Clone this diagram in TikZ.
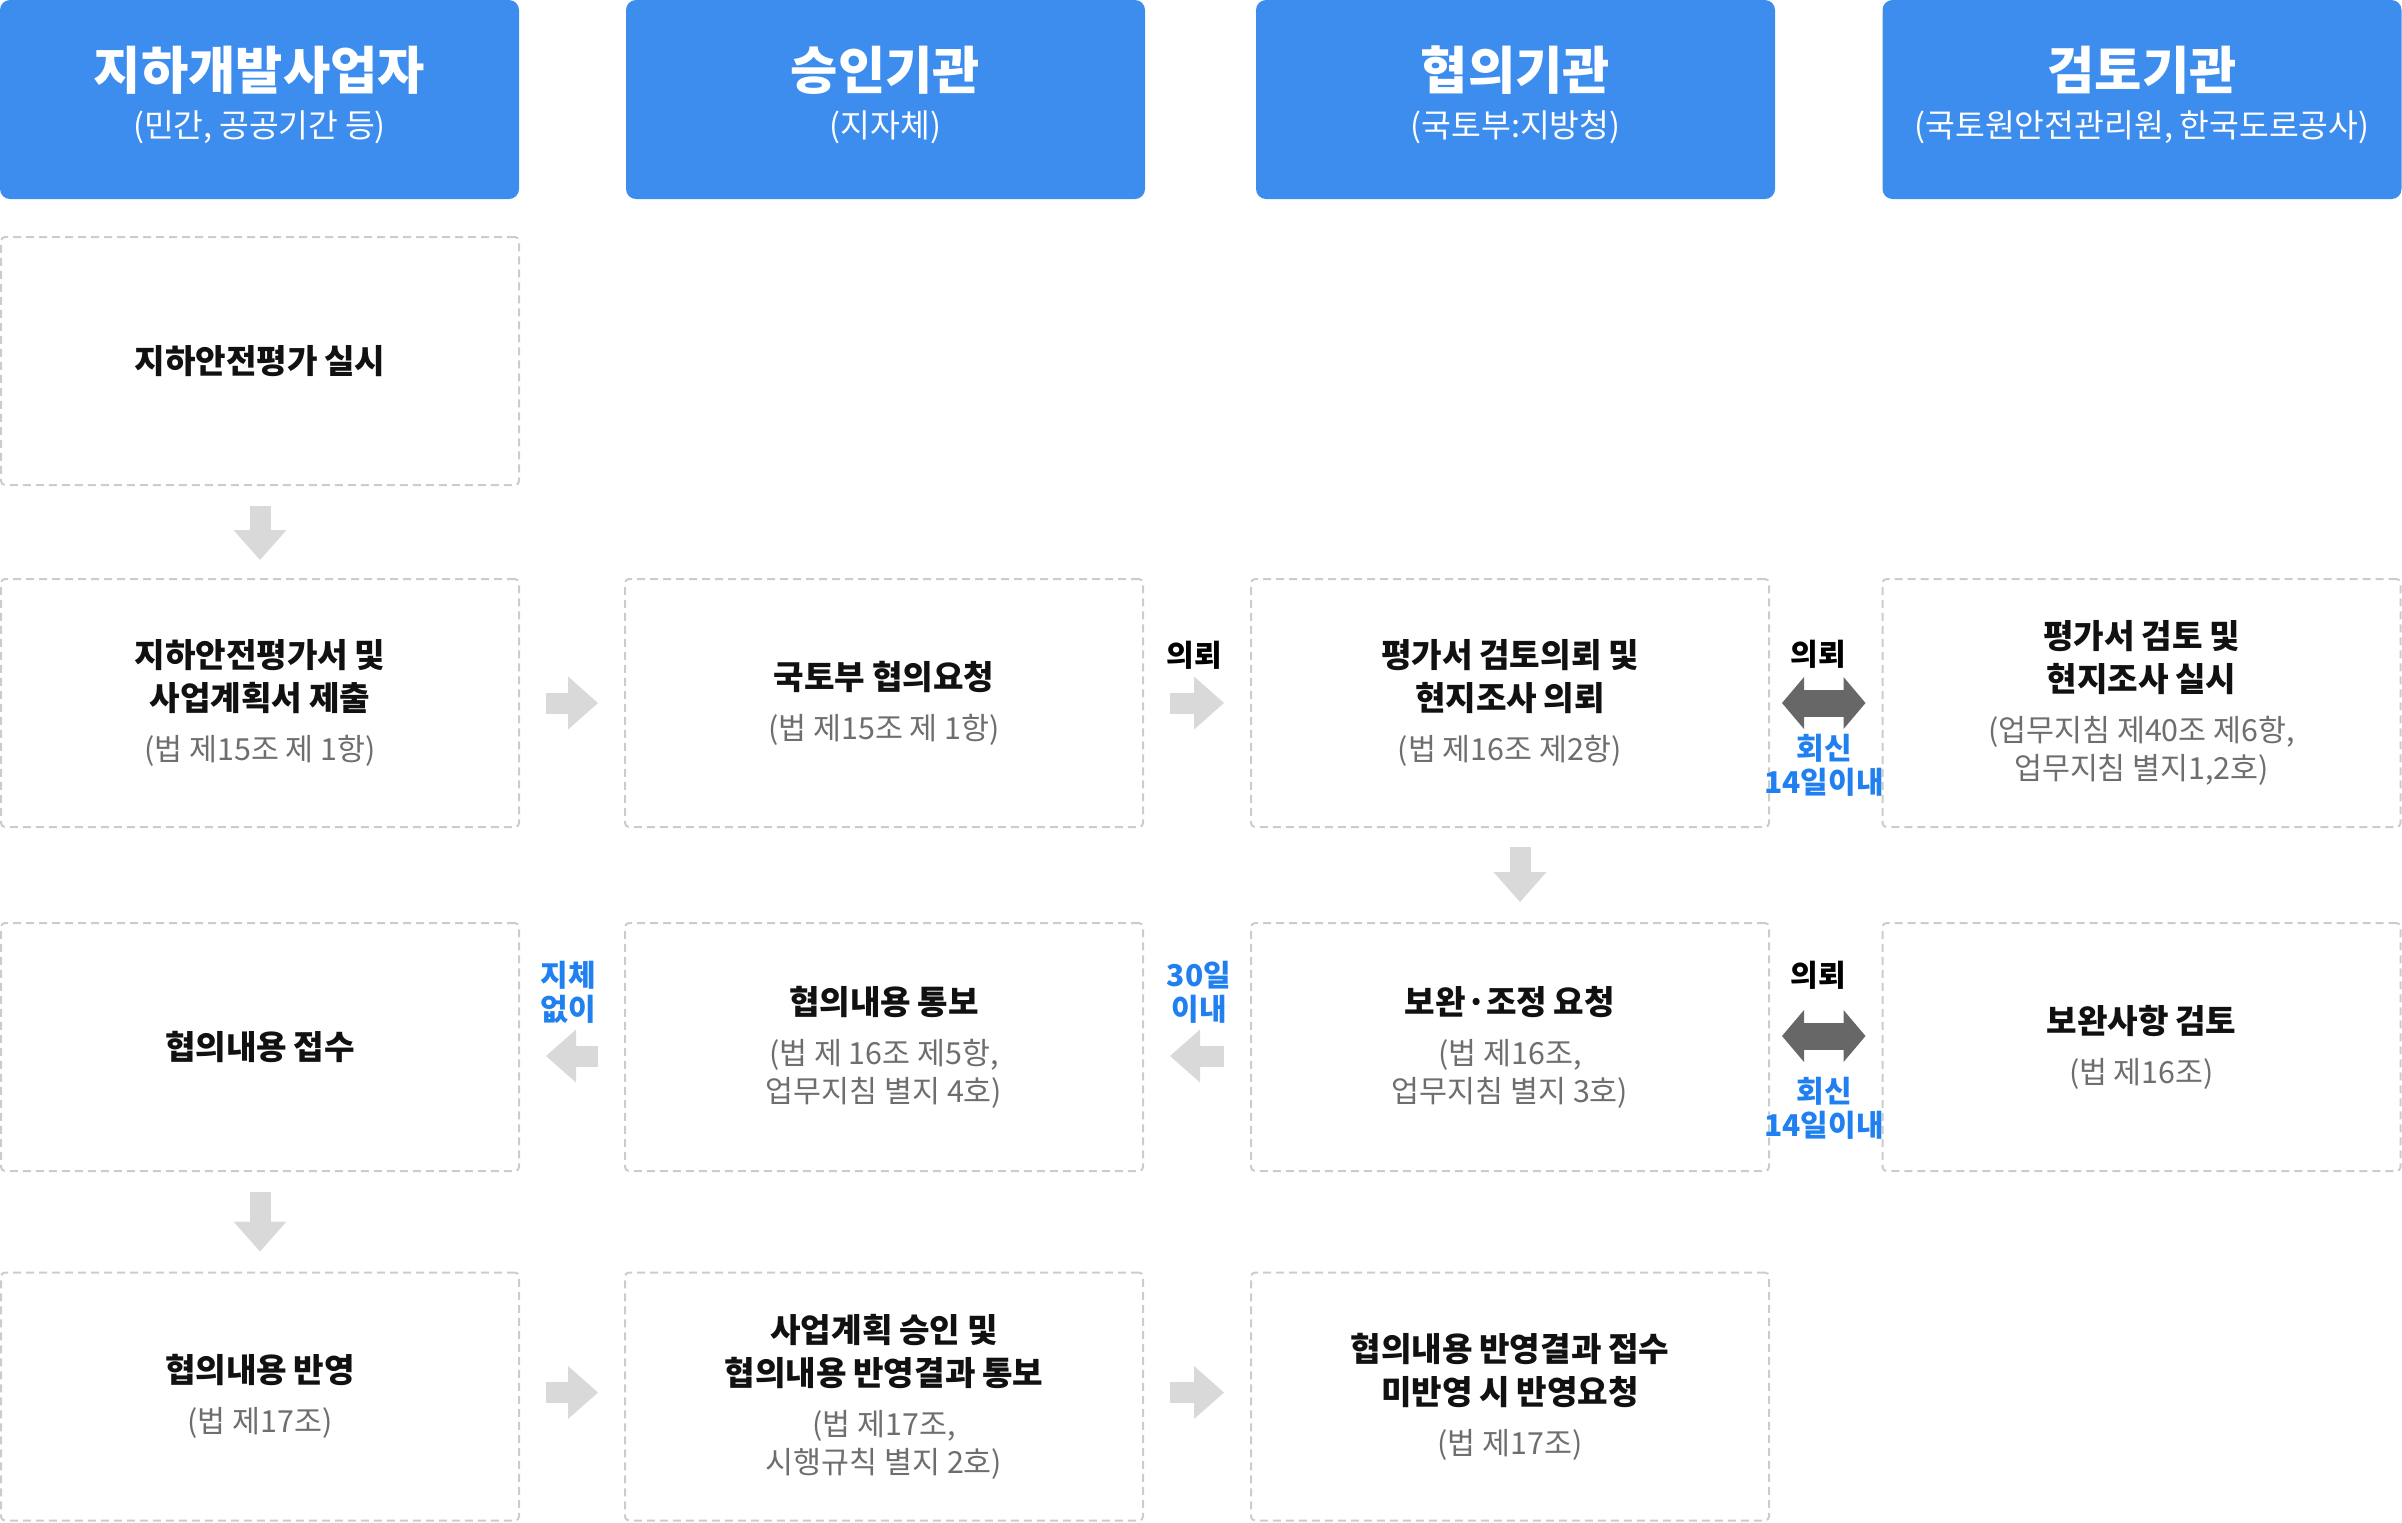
\documentclass[tikz,border=0pt]{standalone}
\usepackage{fontspec}
\setmainfont{Noto Sans CJK KR}
\usetikzlibrary{arrows.meta}
\definecolor{headblue}{HTML}{3D8DEF}
\definecolor{tagblue}{HTML}{2080F0}
\definecolor{boxgray}{HTML}{CCCCCC}
\definecolor{arrowgray}{HTML}{D9D9D9}
\definecolor{twowaygray}{HTML}{676767}
\definecolor{maintext}{HTML}{111111}
\definecolor{notegray}{HTML}{6E6E6E}
\newcommand{\headtitle}[1]{{\bfseries\fontsize{25.7}{30}\selectfont #1\par}}
\newcommand{\headnote}[1]{{\fontsize{16.2}{24}\selectfont #1\rule[-8pt]{0pt}{1pt}\par}}
\newcommand{\stepmain}[1]{{\color{maintext}\bfseries\fontsize{16.6}{21.5}\selectfont #1\par}}
\newcommand{\stepnote}[1]{\vspace{6pt}{\color{notegray}\fontsize{15.2}{19}\selectfont #1\par}}

\begin{document}
\begin{tikzpicture}[x=0.5pt,y=-0.5pt,
  head/.style={fill=headblue, rounded corners=5pt, minimum width=259.5pt, minimum height=99.5pt, text width=255pt, align=center, text=white, inner sep=0pt, outer sep=0pt},
  stepbox/.style={draw=boxgray, line width=1pt, dash pattern=on 4pt off 2.5pt, rounded corners=2pt, minimum width=259pt, minimum height=124pt, text width=250pt, align=center, inner sep=0pt, outer sep=0pt},
  flow/.style={draw=arrowgray, line width=10.5pt, -{Triangle[width=26.5pt,length=15pt,line width=0pt]}, shorten <=13.5pt, shorten >=13.5pt},
  twoway/.style={draw=twowaygray, line width=13.5pt, {Triangle[width=26pt,length=11pt,line width=0pt]}-{Triangle[width=26pt,length=11pt,line width=0pt]}, shorten <=6.5pt, shorten >=8.5pt},
  tag/.style={font=\bfseries\fontsize{15}{17}\selectfont, align=center, inner sep=0pt}]
\useasboundingbox (0,0) rectangle (2402,1522);
\node[head] (h1) at (259.5,99.5) {\headtitle{지하개발사업자}\headnote{(민간, 공공기간 등)}};
\node[head] (h2) at (885.5,99.5) {\headtitle{승인기관}\headnote{(지자체)}};
\node[head] (h3) at (1515.5,99.5) {\headtitle{협의기관}\headnote{(국토부:지방청)}};
\node[head] (h4) at (2142,99.5) {\headtitle{검토기관}\headnote{(국토원안전관리원, 한국도로공사)}};

\node[stepbox] (b11) at (260,361) {\stepmain{지하안전평가 실시}};
\node[stepbox] (b21) at (260,703) {\stepmain{지하안전평가서 및\\사업계획서 제출}\stepnote{(법 제15조 제 1항)}};
\node[stepbox] (b22) at (884,703) {\stepmain{국토부 협의요청}\stepnote{(법 제15조 제 1항)}};
\node[stepbox] (b23) at (1510,703) {\stepmain{평가서 검토의뢰 및\\현지조사 의뢰}\stepnote{(법 제16조 제2항)}};
\node[stepbox] (b24) at (2141.5,703) {\stepmain{평가서 검토 및\\현지조사 실시}\stepnote{(업무지침 제40조 제6항,\\업무지침 별지1,2호)}};
\node[stepbox] (b31) at (260,1047) {\stepmain{협의내용 접수}};
\node[stepbox] (b32) at (884,1047) {\stepmain{협의내용 통보}\stepnote{(법 제 16조 제5항,\\업무지침 별지 4호)}};
\node[stepbox] (b33) at (1510,1047) {\stepmain{보완·조정 요청}\stepnote{(법 제16조,\\업무지침 별지 3호)}};
\node[stepbox] (b34) at (2141.5,1047) {\stepmain{보완사항 검토}\stepnote{(법 제16조)}};
\node[stepbox] (b41) at (260,1396.5) {\stepmain{협의내용 반영}\stepnote{(법 제17조)}};
\node[stepbox] (b42) at (884,1396.5) {\stepmain{사업계획 승인 및\\협의내용 반영결과 통보}\stepnote{(법 제17조,\\시행규칙 별지 2호)}};
\node[stepbox] (b43) at (1510,1396.5) {\stepmain{협의내용 반영결과 접수\\미반영 시 반영요청}\stepnote{(법 제17조)}};

\draw[flow, shorten <=10.5pt, shorten >=9.5pt] (b11) -- (b21);
\draw[flow] (b21) -- (b22);
\draw[flow] (b22) -- (b23);
\draw[twoway] (b23) -- (b24);
\draw[flow, shorten <=10pt, shorten >=10.5pt] ([xshift=5pt]b23.south) -- ([xshift=5pt]b33.north);
\draw[twoway] ([yshift=5.5pt]b33.east) -- ([yshift=5.5pt]b34.west);
\draw[flow] ([yshift=-4.5pt]b33.west) -- ([yshift=-4.5pt]b32.east);
\draw[flow] ([yshift=-4.5pt]b32.west) -- ([yshift=-4.5pt]b31.east);
\draw[flow, shorten <=10.5pt, shorten >=10.5pt] (b31) -- (b41);
\draw[flow] ([yshift=2pt]b41.east) -- ([yshift=2pt]b42.west);
\draw[flow] ([yshift=2pt]b42.east) -- ([yshift=2pt]b43.west);

\node[tag] (ask1) at (1194,655) {의뢰};
\node[tag] (ask2) at (1818,654) {의뢰};
\node[tag, text=tagblue] (rep2) at (1824,765.5) {회신\\14일이내};
\node[tag] (ask3) at (1818,975) {의뢰};
\node[tag, text=tagblue] (rep3) at (1824,1108.5) {회신\\14일이내};
\node[tag, text=tagblue] (now) at (568,992) {지체\\없이};
\node[tag, text=tagblue] (d30) at (1199,992) {30일\\이내};
\end{tikzpicture}
\end{document}
